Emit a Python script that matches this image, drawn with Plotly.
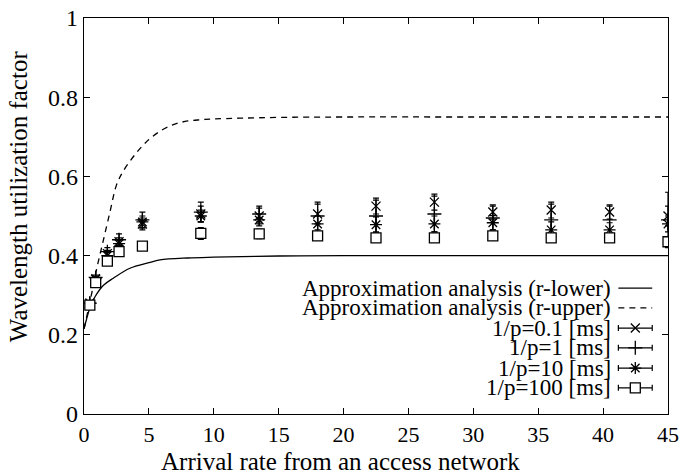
import plotly.graph_objects as go

# ---- data ----
arrival = [0.45, 0.9, 1.8, 2.7, 4.5, 9, 13.5, 18, 22.5, 27, 31.5, 36, 40.5, 45]

p01 = [0.28, 0.34, 0.405, 0.435, 0.48, 0.505, 0.50, 0.505, 0.525, 0.535, 0.51, 0.515, 0.51, 0.50]
p01_err = [0.005, 0.006, 0.008, 0.01, 0.015, 0.02, 0.02, 0.025, 0.02, 0.02, 0.018, 0.02, 0.018, 0.025]
p1 = [0.28, 0.345, 0.41, 0.44, 0.49, 0.51, 0.505, 0.50, 0.50, 0.505, 0.495, 0.49, 0.49, 0.49]
p1_err = [0.005, 0.006, 0.01, 0.015, 0.02, 0.025, 0.02, 0.035, 0.04, 0.045, 0.03, 0.04, 0.035, 0.07]
p10 = [0.28, 0.342, 0.40, 0.43, 0.485, 0.50, 0.49, 0.48, 0.478, 0.48, 0.483, 0.465, 0.465, 0.48]
p10_err = [0.005, 0.006, 0.008, 0.01, 0.015, 0.015, 0.015, 0.02, 0.02, 0.02, 0.018, 0.02, 0.018, 0.02]
p100 = [0.275, 0.332, 0.386, 0.41, 0.424, 0.456, 0.455, 0.45, 0.445, 0.445, 0.45, 0.445, 0.445, 0.435]
p100_err = [0.004, 0.004, 0.005, 0.005, 0.008, 0.015, 0.012, 0.01, 0.008, 0.008, 0.01, 0.01, 0.008, 0.01]

lower_x = [0, 0.2, 0.5, 0.85, 1.5, 2.26, 3.54, 5, 5.85, 8, 10, 15, 20, 30, 45]
lower_y = [0.215, 0.24, 0.272, 0.296, 0.325, 0.343, 0.368, 0.382, 0.389, 0.394, 0.396, 0.399, 0.4, 0.4, 0.4]
upper_x = [0, 0.5, 1, 1.5, 2, 2.5, 3, 4, 5, 6, 7, 8, 9, 10, 12, 15, 20, 30, 45]
upper_y = [0.215, 0.29, 0.37, 0.44, 0.51, 0.578, 0.612, 0.658, 0.693, 0.717, 0.732, 0.74, 0.743, 0.745, 0.747, 0.749, 0.75, 0.75, 0.75]

xticks = [0, 5, 10, 15, 20, 25, 30, 35, 40, 45]
yticks = [0, 0.2, 0.4, 0.6, 0.8, 1]
ytick_text = ["0", "0.2", "0.4", "0.6", "0.8", "1"]

legend_labels = ["Approximation analysis (r-lower)", "Approximation analysis (r-upper)",
                 "1/p=0.1 [ms]", "1/p=1 [ms]", "1/p=10 [ms]", "1/p=100 [ms]"]
x_title = "Arrival rate from an access network"
y_title = "Wavelength utilization factor"

FONT = "Liberation Serif, Times New Roman, Times, Nimbus Roman, DejaVu Serif, serif"
BLACK = "black"

fig = go.Figure()

fig.add_trace(go.Scatter(x=lower_x, y=lower_y, mode="lines", line=dict(color=BLACK, width=1.3, shape="spline"),
                         showlegend=False))
fig.add_trace(go.Scatter(x=upper_x, y=upper_y, mode="lines",
                         line=dict(color=BLACK, width=1.3, dash="6px,5px", shape="spline"), showlegend=False))

series = [
    (p01, p01_err, "x-thin-open", 9, BLACK),
    (p1, p1_err, "cross-thin-open", 10, BLACK),
    (p10, p10_err, "asterisk-open", 10, BLACK),
    (p100, p100_err, "square", 10, "white"),
]
for vals, err, sym, size, fill in series:
    fig.add_trace(go.Scatter(
        x=arrival, y=vals, mode="markers",
        marker=dict(symbol=sym, size=size, color=fill, line=dict(color=BLACK, width=1.3)),
        error_y=dict(type="data", array=err, visible=True, color=BLACK, thickness=1.2, width=3),
        showlegend=False))

# ---- key (gnuplot style: text right-aligned, sample on the right) ----
row_y = [0.318, 0.268, 0.217, 0.167, 0.116, 0.066]
text_x = 0.905
samp_c = 0.944
samp_h = 0.029
fig.add_trace(go.Scatter(x=[samp_c - samp_h, samp_c + samp_h], y=[row_y[0]] * 2, mode="lines",
                         line=dict(color=BLACK, width=1.3), xaxis="x2", yaxis="y2", showlegend=False))
fig.add_trace(go.Scatter(x=[samp_c - samp_h, samp_c + samp_h], y=[row_y[1]] * 2, mode="lines",
                         line=dict(color=BLACK, width=1.3, dash="6px,5px"), xaxis="x2", yaxis="y2", showlegend=False))
for i, (vals, err, sym, size, fill) in enumerate(series):
    fig.add_trace(go.Scatter(
        x=[samp_c], y=[row_y[i + 2]], mode="markers", xaxis="x2", yaxis="y2",
        marker=dict(symbol=sym, size=size, color=fill, line=dict(color=BLACK, width=1.3)),
        error_x=dict(type="constant", value=samp_h, visible=True, color=BLACK, thickness=1.2, width=3),
        showlegend=False))

annotations = []
for lbl, yy in zip(legend_labels, row_y):
    annotations.append(dict(x=text_x, y=yy, xref="x2", yref="y2", text=lbl, showarrow=False,
                            xanchor="right", yanchor="middle", font=dict(family=FONT, size=23, color=BLACK)))
annotations.append(dict(x=-0.113, y=0.55, xref="paper", yref="paper", text=y_title, textangle=-90,
                        showarrow=False, xanchor="center", yanchor="middle",
                        font=dict(family=FONT, size=25, color=BLACK)))
annotations.append(dict(x=0.44, y=-0.121, xref="paper", yref="paper", text=x_title,
                        showarrow=False, xanchor="center", yanchor="middle",
                        font=dict(family=FONT, size=25, color=BLACK)))

fig.update_layout(
    width=683, height=476,
    margin=dict(l=84, r=15, t=18, b=62),
    paper_bgcolor="white", plot_bgcolor="white",
    font=dict(family=FONT, size=22, color=BLACK),
    annotations=annotations,
    xaxis=dict(range=[0, 45], tickvals=xticks, ticks="inside", ticklen=6, tickcolor=BLACK,
               showline=True, linecolor=BLACK, linewidth=1.2, mirror="allticks", showgrid=False,
               zeroline=False, tickfont=dict(family=FONT, size=22), automargin=False),
    yaxis=dict(range=[0, 1], tickvals=yticks, ticktext=ytick_text, ticks="inside", ticklen=6, tickcolor=BLACK,
               showline=True, linecolor=BLACK, linewidth=1.2, mirror="allticks", showgrid=False,
               zeroline=False, tickfont=dict(family=FONT, size=24), automargin=False),
    xaxis2=dict(range=[0, 1], overlaying="x", visible=False, fixedrange=True),
    yaxis2=dict(range=[0, 1], overlaying="y", visible=False, fixedrange=True),
)

fig.write_html("out.html")
